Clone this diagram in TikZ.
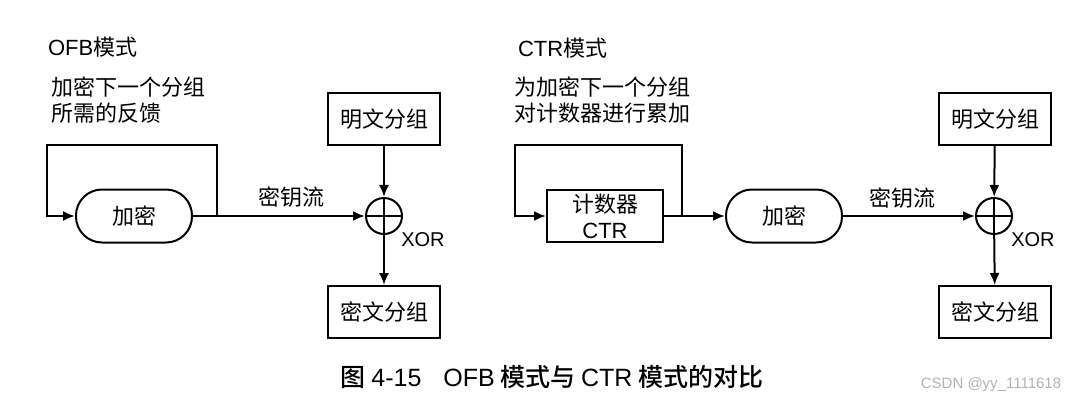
\documentclass[tikz,border=0pt]{standalone}
\usepackage{fontspec}
\setmainfont{Noto Sans CJK SC}
\newfontfamily\lat{Liberation Sans}
\newfontfamily\capfont{Noto Sans CJK SC Medium}
\usetikzlibrary{arrows.meta}

\begin{document}
\begin{tikzpicture}[x=1pt,y=-1pt,
  font=\fontsize{22}{26}\selectfont,
  line width=2pt,
  box/.style={draw,rectangle,minimum width=112pt,minimum height=52pt,inner sep=0pt},
  cipher/.style={draw,rectangle,rounded corners=26pt,minimum width=116pt,minimum height=53pt,inner sep=0pt},
  xorsum/.style={draw,circle,minimum size=36pt,inner sep=0pt},
  flow/.style={-{Latex[length=12pt,width=10pt]}},
  lbl/.style={inner sep=0pt}]

\useasboundingbox (0,0) rectangle (1082,401);

% OFB mode
\node [lbl,anchor=west] (ofbtitle) at (47,47) {{\lat OFB}模式};
\node [lbl,anchor=west,align=left] (ofbnote) at (50,100) {加密下一个分组\\所需的反馈};
\node [cipher] (ofbenc) at (134,216) {加密};
\node [xorsum] (ofbxor) at (384,216) {};
\node [box] (ofbplain) at (384,119) {明文分组};
\node [box] (ofbcipher) at (384,312) {密文分组};
\node [lbl] (ofbkey) at (291,197) {密钥流};
\node [lbl,font=\lat\fontsize{20}{22}\selectfont] (ofbxorlbl) at (423,240) {XOR};
\coordinate (ofbtap) at (217,216);
\coordinate (ofbloop) at (47,145);

\draw [flow] (ofbenc) -- (ofbxor);
\draw [flow] (ofbtap) |- (ofbloop) |- (ofbenc);
\draw [flow] (ofbplain) -- (ofbxor);
\draw [flow] (ofbxor) -- (ofbcipher);
\draw (ofbxor.north) -- (ofbxor.south) (ofbxor.west) -- (ofbxor.east);

% CTR mode
\node [lbl,anchor=west] (ctrtitle) at (517,48) {{\lat CTR}模式};
\node [lbl,anchor=west,align=left] (ctrnote) at (513,100) {为加密下一个分组\\对计数器进行累加};
\node [box,minimum width=116pt,align=center] (ctrcount) at (605,216) {计数器\\{\lat CTR}};
\node [cipher] (ctrenc) at (784,216) {加密};
\node [xorsum] (ctrxor) at (994,216) {};
\node [box] (ctrplain) at (995,119) {明文分组};
\node [box] (ctrcipher) at (995,312) {密文分组};
\node [lbl] (ctrkey) at (902,198) {密钥流};
\node [lbl,font=\lat\fontsize{20}{22}\selectfont] (ctrxorlbl) at (1033,240) {XOR};
\coordinate (ctrtap) at (682,216);
\coordinate (ctrloop) at (515,145);

\draw [flow] (ctrcount) -- (ctrenc);
\draw [flow] (ctrtap) |- (ctrloop) |- (ctrcount);
\draw [flow] (ctrenc) -- (ctrxor);
\draw [flow] (ctrplain) -- (ctrxor);
\draw [flow] (ctrxor) -- (ctrcipher);
\draw (ctrxor.north) -- (ctrxor.south) (ctrxor.west) -- (ctrxor.east);

% caption and mark
\node [lbl,font=\capfont\fontsize{25}{28}\selectfont] (caption) at (552,377) {图 {\lat 4-15}\hspace{22pt}{\lat OFB} 模式与 {\lat CTR} 模式的对比};
\node [lbl,font=\lat\fontsize{15}{18}\selectfont,text=gray!60] (mark) at (991,385) {CSDN @yy\_1111618};

\end{tikzpicture}
\end{document}
